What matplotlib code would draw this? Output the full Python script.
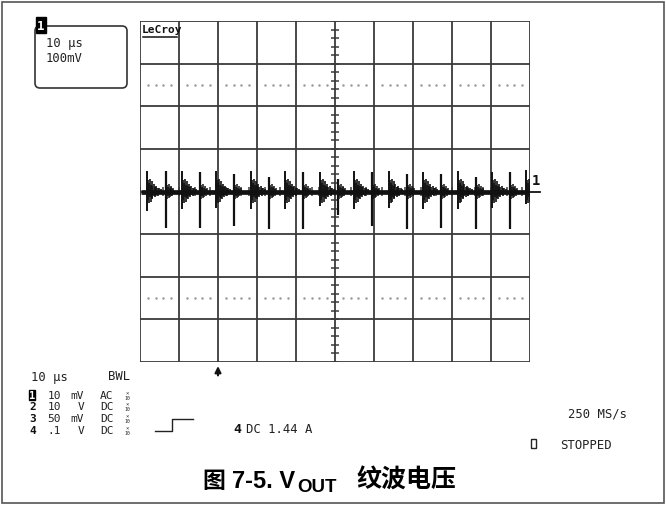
import matplotlib
matplotlib.use("Agg")
from matplotlib import pyplot as plt
from matplotlib.patches import FancyBboxPatch, Rectangle

W, H = 666, 506

# scope screen: 10 x 8 divisions, trace values in divisions
up_x = [0.18, 1.08, 1.95, 2.85, 3.72, 4.62, 5.49, 6.38, 7.26, 8.15, 9.03, 9.90]
up_top = [0.47, 0.47, 0.47, 0.47, 0.47, 0.45, 0.47, 0.47, 0.45, 0.47, 0.45, 0.50]
up_bot = [-0.45, -0.40, -0.38, -0.40, -0.42, -0.35, -0.40, -0.38, -0.42, -0.40, -0.38, -0.30]
down_x = [0.67, 1.54, 2.41, 3.31, 4.18, 5.08, 5.95, 6.85, 7.72, 8.62, 9.49]
down_top = [0.49, 0.45, 0.40, 0.35, 0.45, 0.30, 0.45, 0.40, 0.42, 0.35, 0.45]
down_bot = [-0.85, -0.85, -0.80, -0.87, -0.87, -0.55, -0.80, -0.87, -0.85, -0.87, -0.87]
# ringing that follows each spike (offset, top, bottom)
ring_dx = [0.02, 0.05, 0.07, 0.09, 0.12, 0.14, 0.17, 0.20, 0.24, 0.27, 0.31, 0.35]
ring_top = [0.26, 0.20, 0.30, 0.16, 0.24, 0.13, 0.17, 0.10, 0.13, 0.08, 0.09, 0.06]
ring_bot = [-0.20, -0.28, -0.12, -0.24, -0.15, -0.18, -0.10, -0.14, -0.08, -0.10, -0.06, -0.07]
ring2_top = [0.16, 0.10, 0.18, 0.08, 0.13, 0.07, 0.09]
ring2_bot = [-0.18, -0.10, -0.15, -0.12, -0.07, -0.10, -0.06]

dot_rows = [2.5, -2.5]
dot_offsets = [0.2, 0.4, 0.6, 0.8]

# readout texts
ch_num = ['1', '2', '3', '4']
ch_volts = ['10', '10', '50', '.1']
ch_unit = ['mV', 'V', 'mV', 'V']
ch_coupling = ['AC', 'DC', 'DC', 'DC']
ch_rows_y = [396, 407.5, 419.5, 431.5]

fig = plt.figure(figsize=(W / 100, H / 100), dpi=100)
fig.patch.set_facecolor('white')

ov = fig.add_axes([0, 0, 1, 1])
ov.set_xlim(0, W)
ov.set_ylim(H, 0)
ov.axis('off')

mono = 'DejaVu Sans Mono'
txt = dict(family=mono, fontsize=8.8, color='#222222', va='center')
row_txt = dict(family=mono, fontsize=8, color='#222222', va='center')

# outer frame
ov.add_patch(Rectangle((1.5, 2.5), W - 3.5, H - 5, fill=False, ec='#555555', lw=1.2))

# channel box top-left
ov.add_patch(FancyBboxPatch((35, 27), 92, 62, boxstyle='round,pad=0,rounding_size=5',
                            fill=False, ec='#333333', lw=1.2))
ov.text(41, 26, '1', family=mono, fontsize=9, fontweight='bold', color='white', va='center', ha='center',
        bbox=dict(boxstyle='square,pad=0.12', fc='black', ec='black'))
ov.text(46, 43, '10 μs', **txt)
ov.text(46, 58, '100mV', **txt)

# bottom readouts
ov.text(31, 377, '10 μs', **txt)
ov.text(108, 377, 'BWL', **txt)
for i in range(4):
    y = ch_rows_y[i]
    if i == 0:
        ov.text(29, y, ch_num[i], family=mono, fontsize=7.5, fontweight='bold', color='white', va='center',
                bbox=dict(boxstyle='square,pad=0.0', fc='black', ec='black'))
    else:
        ov.text(29, y, ch_num[i], family=mono, fontsize=8, fontweight='bold', color='#111111', va='center')
    ov.text(61, y, ch_volts[i], ha='right', **row_txt)
    ov.text(84, y, ch_unit[i], ha='right', **row_txt)
    ov.text(100, y, ch_coupling[i], **row_txt)
    ov.text(127, y - 2.5, '×', family=mono, fontsize=4, color='#222222', ha='center', va='center')
    ov.text(127, y + 2.5, '10', family=mono, fontsize=3.5, color='#222222', ha='center', va='center')

step_x = [155, 172, 172, 193]
step_y = [432, 432, 420, 420]
ov.plot(step_x, step_y, color='#222222', lw=1.0)
ov.text(233, 430, '4', family=mono, fontsize=9.5, fontweight='bold', color='#111111', va='center')
ov.text(246, 430, 'DC 1.44 A', **txt)
ov.text(568, 414, '250 MS/s', **txt)
ov.add_patch(Rectangle((531, 440), 5, 9, fill=False, ec='#222222', lw=1.0))
ov.text(560, 446, 'STOPPED', **txt)

# caption
ov.text(202, 482, '图', family=['Noto Sans CJK SC', 'DejaVu Sans'], fontsize=16.5, fontweight='bold',
        va='center')
ov.text(232, 482, '7-5. V', family=['Liberation Sans', 'DejaVu Sans'], fontsize=17, fontweight='bold',
        va='center')
ov.text(297, 488, 'OUT', family=['Liberation Sans', 'DejaVu Sans'], fontsize=13.5, fontweight='bold',
        va='center')
ov.text(356, 481, '纹波电压', family=['Noto Sans CJK SC', 'DejaVu Sans'], fontsize=18, fontweight='bold',
        va='center')

# scope grid
gx = fig.add_axes([140 / W, 1 - 363 / H, 390 / W, 341 / H])
gx.set_xlim(0, 10)
gx.set_ylim(-4, 4)
gx.axis('off')

grid_c = '#3a3a3a'
gx.vlines(range(11), -4, 4, color=grid_c, lw=1.3, zorder=1)
gx.hlines(range(-4, 5), 0, 10, color=grid_c, lw=1.3, zorder=1)
tick_y = [v / 5 for v in range(-20, 21)]
tick_x = [v / 5 for v in range(0, 51)]
gx.hlines(tick_y, 4.9, 5.1, color=grid_c, lw=1.1, zorder=1)
gx.vlines(tick_x, -0.1, 0.1, color=grid_c, lw=1.1, zorder=1)
for row in dot_rows:
    xs = [c + d for c in range(10) for d in dot_offsets]
    gx.scatter(xs, [row] * len(xs), s=0.6, color='#999999', zorder=1)

# trace
tc = '#111111'
gx.plot([0.02, 9.98], [0, 0], color=tc, lw=3.4, zorder=3, solid_capstyle='butt')
gx.vlines(up_x, up_bot, up_top, color=tc, lw=1.4, zorder=3)
gx.vlines(down_x, down_bot, down_top, color=tc, lw=1.6, zorder=3)
for x0 in up_x:
    xs = [x0 + d for d in ring_dx if x0 + d < 10]
    gx.vlines(xs, ring_bot[:len(xs)], ring_top[:len(xs)], color=tc, lw=1.2, zorder=3)
for x0 in down_x:
    xs = [x0 + d for d in ring_dx[:len(ring2_top)]]
    gx.vlines(xs, ring2_bot, ring2_top, color=tc, lw=1.1, zorder=3)

# channel level marker and trigger arrow
gx.plot([9.95, 10.25], [0, 0], color=tc, lw=1.3, clip_on=False, zorder=3)
gx.text(10.05, 0.27, '1', family=mono, fontsize=10, fontweight='bold', color=tc, va='center',
        clip_on=False)
gx.annotate('', xy=(2.0, -4.03), xytext=(2.0, -4.38), annotation_clip=False,
            arrowprops=dict(arrowstyle='-|>', color=tc, lw=1.5, mutation_scale=9))

# brand label
gx.text(0.05, 3.93, 'LeCroy', family=mono, fontsize=8, fontweight='bold', color=tc, va='top')
gx.plot([0.08, 0.95], [3.62, 3.62], color=tc, lw=1.1)

fig.savefig('out.png', dpi=100)
